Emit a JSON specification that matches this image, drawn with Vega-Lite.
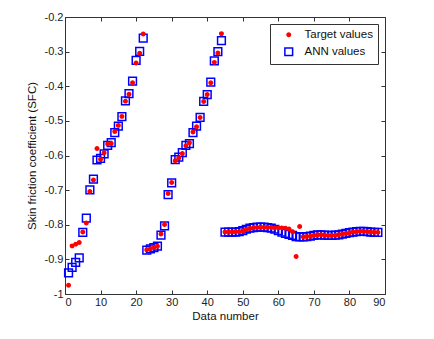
{
  "$schema": "https://vega.github.io/schema/vega-lite/v6.json",
  "width": 320,
  "height": 277,
  "autosize": "none",
  "padding": {"left": 65, "top": 17, "right": 49, "bottom": 45},
  "background": "white",
  "config": {
    "font": "Liberation Sans",
    "view": {"stroke": "#333333", "strokeWidth": 1},
    "axis": {
      "grid": false,
      "domain": false,
      "tickColor": "#333333",
      "tickSize": -4,
      "labelColor": "#222222",
      "labelFontSize": 11,
      "labelFont": "Liberation Sans",
      "titleFont": "Liberation Sans",
      "titleFontSize": 11.5,
      "titleFontWeight": "normal",
      "titleColor": "#111111"
    },
    "legend": {
      "orient": "top-right",
      "offset": 7,
      "strokeColor": "#333333",
      "fillColor": "white",
      "padding": 5,
      "labelFontSize": 11.5,
      "labelFont": "Liberation Sans",
      "labelColor": "#111111",
      "labelOffset": 10,
      "symbolOffset": 8,
      "rowPadding": 3
    }
  },
  "data": {
    "values": [
      {"n": 1, "t": -0.975, "a": -0.939},
      {"n": 2, "t": -0.861, "a": -0.923},
      {"n": 3, "t": -0.856, "a": -0.909},
      {"n": 4, "t": -0.851, "a": -0.896},
      {"n": 5, "t": -0.821, "a": -0.822},
      {"n": 6, "t": -0.795, "a": -0.781},
      {"n": 7, "t": -0.704, "a": -0.699},
      {"n": 8, "t": -0.671, "a": -0.668},
      {"n": 9, "t": -0.58, "a": -0.613},
      {"n": 10, "t": -0.611, "a": -0.608},
      {"n": 11, "t": -0.592, "a": -0.595},
      {"n": 12, "t": -0.567, "a": -0.571},
      {"n": 13, "t": -0.565, "a": -0.563},
      {"n": 14, "t": -0.531, "a": -0.534},
      {"n": 15, "t": -0.513, "a": -0.515},
      {"n": 16, "t": -0.487, "a": -0.488},
      {"n": 17, "t": -0.443, "a": -0.442},
      {"n": 18, "t": -0.423, "a": -0.421},
      {"n": 19, "t": -0.39, "a": -0.385},
      {"n": 20, "t": -0.333, "a": -0.325},
      {"n": 21, "t": -0.305, "a": -0.299},
      {"n": 22, "t": -0.249, "a": -0.261},
      {"n": 23, "t": -0.872, "a": -0.873},
      {"n": 24, "t": -0.869, "a": -0.87},
      {"n": 25, "t": -0.866, "a": -0.866},
      {"n": 26, "t": -0.862, "a": -0.862},
      {"n": 27, "t": -0.827, "a": -0.83},
      {"n": 28, "t": -0.799, "a": -0.803},
      {"n": 29, "t": -0.71, "a": -0.713},
      {"n": 30, "t": -0.678, "a": -0.679},
      {"n": 31, "t": -0.615, "a": -0.612},
      {"n": 32, "t": -0.607, "a": -0.605},
      {"n": 33, "t": -0.594, "a": -0.592},
      {"n": 34, "t": -0.572, "a": -0.571},
      {"n": 35, "t": -0.563, "a": -0.566},
      {"n": 36, "t": -0.532, "a": -0.534},
      {"n": 37, "t": -0.517, "a": -0.515},
      {"n": 38, "t": -0.49, "a": -0.49},
      {"n": 39, "t": -0.444, "a": -0.444},
      {"n": 40, "t": -0.424, "a": -0.424},
      {"n": 41, "t": -0.39, "a": -0.388},
      {"n": 42, "t": -0.331, "a": -0.327},
      {"n": 43, "t": -0.304, "a": -0.3},
      {"n": 44, "t": -0.248, "a": -0.268},
      {"n": 45, "t": -0.821, "a": -0.821},
      {"n": 46, "t": -0.821, "a": -0.821},
      {"n": 47, "t": -0.821, "a": -0.821},
      {"n": 48, "t": -0.82, "a": -0.821},
      {"n": 49, "t": -0.82, "a": -0.82},
      {"n": 50, "t": -0.818, "a": -0.817},
      {"n": 51, "t": -0.814, "a": -0.813},
      {"n": 52, "t": -0.811, "a": -0.81},
      {"n": 53, "t": -0.809, "a": -0.808},
      {"n": 54, "t": -0.808, "a": -0.807},
      {"n": 55, "t": -0.807, "a": -0.807},
      {"n": 56, "t": -0.807, "a": -0.807},
      {"n": 57, "t": -0.807, "a": -0.808},
      {"n": 58, "t": -0.808, "a": -0.81},
      {"n": 59, "t": -0.809, "a": -0.813},
      {"n": 60, "t": -0.809, "a": -0.817},
      {"n": 61, "t": -0.809, "a": -0.821},
      {"n": 62, "t": -0.81, "a": -0.825},
      {"n": 63, "t": -0.812, "a": -0.828},
      {"n": 64, "t": -0.82, "a": -0.831},
      {"n": 65, "t": -0.892, "a": -0.834},
      {"n": 66, "t": -0.805, "a": -0.835},
      {"n": 67, "t": -0.835, "a": -0.835},
      {"n": 68, "t": -0.834, "a": -0.834},
      {"n": 69, "t": -0.833, "a": -0.833},
      {"n": 70, "t": -0.831, "a": -0.831},
      {"n": 71, "t": -0.829, "a": -0.829},
      {"n": 72, "t": -0.829, "a": -0.829},
      {"n": 73, "t": -0.83, "a": -0.83},
      {"n": 74, "t": -0.831, "a": -0.831},
      {"n": 75, "t": -0.831, "a": -0.831},
      {"n": 76, "t": -0.83, "a": -0.83},
      {"n": 77, "t": -0.829, "a": -0.829},
      {"n": 78, "t": -0.827, "a": -0.827},
      {"n": 79, "t": -0.825, "a": -0.825},
      {"n": 80, "t": -0.823, "a": -0.823},
      {"n": 81, "t": -0.821, "a": -0.821},
      {"n": 82, "t": -0.82, "a": -0.82},
      {"n": 83, "t": -0.819, "a": -0.819},
      {"n": 84, "t": -0.819, "a": -0.819},
      {"n": 85, "t": -0.82, "a": -0.82},
      {"n": 86, "t": -0.821, "a": -0.821},
      {"n": 87, "t": -0.822, "a": -0.822},
      {"n": 88, "t": -0.822, "a": -0.822}
    ]
  },
  "transform": [{"fold": ["a", "t"], "as": ["s", "y"]}],
  "layer": [
    {
      "mark": {"type": "point", "filled": true, "strokeWidth": 1.5, "opacity": 1},
      "encoding": {
        "x": {
          "field": "n", "type": "quantitative",
          "scale": {"domain": [0, 90], "nice": false},
          "axis": {"title": "Data number", "values": [0, 10, 20, 30, 40, 50, 60, 70, 80, 90], "labelPadding": 6, "titlePadding": 3}
        },
        "y": {
          "field": "y", "type": "quantitative",
          "scale": {"domain": [-1, -0.2], "nice": false, "zero": false},
          "axis": {
            "title": "Skin friction coefficient (SFC)",
            "values": [-1, -0.9, -0.8, -0.7, -0.6, -0.5, -0.4, -0.3, -0.2],
            "labelExpr": "datum.value <= -0.999 ? '-1' : '-' + format(-datum.value, '.1f')",
            "labelPadding": 6,
            "titlePadding": 7
          }
        },
        "fill": {"field": "s", "type": "nominal", "scale": {"domain": ["t", "a"], "range": ["#ff0000", "rgba(255,255,255,0)"]}, "legend": {"title": null, "labelExpr": "datum.label == 't' ? 'Target values' : 'ANN values'"}},
        "stroke": {"field": "s", "type": "nominal", "scale": {"domain": ["t", "a"], "range": ["#ff0000", "#0000ff"]}, "legend": {"title": null, "labelExpr": "datum.label == 't' ? 'Target values' : 'ANN values'"}},
        "shape": {"field": "s", "type": "nominal", "scale": {"domain": ["t", "a"], "range": ["circle", "square"]}, "legend": {"title": null, "labelExpr": "datum.label == 't' ? 'Target values' : 'ANN values'"}},
        "size": {"field": "s", "type": "nominal", "scale": {"domain": ["t", "a"], "range": [12, 60]}, "legend": {"title": null, "labelExpr": "datum.label == 't' ? 'Target values' : 'ANN values'"}},
        "order": {"field": "s", "type": "nominal", "sort": "ascending"}
      }
    },
    {
      "mark": {"type": "point", "opacity": 0},
      "encoding": {
        "x": {
          "field": "n", "type": "quantitative",
          "scale": {"domain": [0, 90], "nice": false},
          "axis": {"orient": "top", "title": null, "labels": false, "values": [0, 10, 20, 30, 40, 50, 60, 70, 80, 90]}
        },
        "y": {
          "field": "y", "type": "quantitative",
          "scale": {"domain": [-1, -0.2], "nice": false, "zero": false},
          "axis": {"orient": "right", "title": null, "labels": false, "values": [-1, -0.9, -0.8, -0.7, -0.6, -0.5, -0.4, -0.3, -0.2]}
        }
      }
    }
  ],
  "resolve": {"axis": {"x": "independent", "y": "independent"}}
}
